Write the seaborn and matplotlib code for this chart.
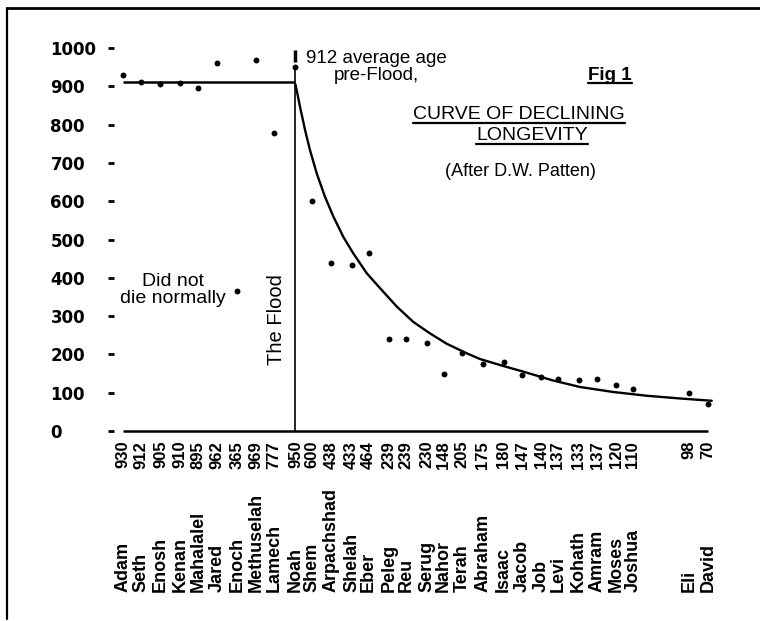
import pandas as pd
import seaborn as sns
import matplotlib.pyplot as plt
from matplotlib.lines import Line2D
from matplotlib.transforms import blended_transform_factory, IdentityTransform

# --- data ---
names = ['Adam', 'Seth', 'Enosh', 'Kenan', 'Mahalalel', 'Jared', 'Enoch', 'Methuselah', 'Lamech', 'Noah',
         'Shem', 'Arpachshad', 'Shelah', 'Eber', 'Peleg', 'Reu', 'Serug', 'Nahor', 'Terah', 'Abraham',
         'Isaac', 'Jacob', 'Job', 'Levi', 'Kohath', 'Amram', 'Moses', 'Joshua', 'Eli', 'David']
ages = [930, 912, 905, 910, 895, 962, 365, 969, 777, 950,
        600, 438, 433, 464, 239, 239, 230, 148, 205, 175,
        180, 147, 140, 137, 133, 137, 120, 110, 98, 70]
# horizontal place of each person along the chart
x_slot = [0, 0.95, 2, 3.05, 4, 5, 6.1, 7.1, 8.05, 9.2,
          10.1, 11.1, 12.2, 13.1, 14.2, 15.1, 16.2, 17.1, 18.1, 19.2,
          20.3, 21.3, 22.3, 23.2, 24.3, 25.3, 26.3, 27.2, 30.2, 31.2]

pre_flood_avg = 912

# hand drawn decline curve, read at points along it
curve_x = [9.2, 9.44, 9.71, 9.97, 10.33, 10.77, 11.22, 11.75, 12.28, 13.0, 13.71, 14.6,
           15.48, 16.37, 17.26, 18.33, 19.04, 20.27, 21.28, 22.93, 24.37, 26.13, 27.95, 29.7, 31.4]
curve_y = [905, 847, 786, 734, 673, 612, 560, 507, 464, 412, 373, 325,
           285, 255, 228, 203, 188, 170, 156, 132, 115, 102, 92, 85, 79]

y_ticks = [0, 100, 200, 300, 400, 500, 600, 700, 800, 900, 1000]

sns.set_theme(style='white')
plt.rcParams['font.family'] = ['Liberation Sans', 'DejaVu Sans']
plt.rcParams['text.color'] = 'black'

df = pd.DataFrame({'name': names, 'age': ages, 'x': x_slot})
curve = pd.DataFrame({'x': curve_x, 'age': curve_y})
noah = names.index('Noah')

W, H = 760, 621
fig = plt.figure(figsize=(7.6, 6.21), dpi=100)
fig.patch.set_facecolor('white')
ax = fig.add_axes([0.1495, 0.2936, 0.8018, 0.6537])


def fx(px):
    return px / W


def fy(py):
    return 1 - py / H


# --- marks ---
sns.lineplot(data=curve, x='x', y='age', color='black', lw=1.7, sort=False, estimator=None, ax=ax)
ax.hlines(pre_flood_avg, x_slot[0], x_slot[noah], color='black', lw=1.8)
ax.vlines(x_slot[noah], 0, ages[noah], color='black', lw=1.2)
ax.plot(x_slot[noah], 978, marker='|', ms=8, mew=2.5, color='black')
ax.hlines(0, x_slot[0], x_slot[-1], color='black', lw=1.8)
sns.scatterplot(data=df, x='x', y='age', color='black', s=18, linewidth=0, ax=ax, zorder=3)

# --- axes ---
ax.set_xlim(-0.5, 32)
ax.set_ylim(-20, 1040)
ax.set_xlabel('')
ax.set_ylabel('')
for s in ax.spines.values():
    s.set_visible(False)
ax.set_yticks(y_ticks)
ax.set_xticks(x_slot, labels=[str(a) for a in ages])
ax.tick_params(axis='x', length=0, pad=1.5, labelrotation=90, labelsize=12, colors='black')
ax.tick_params(axis='y', left=True, length=4.5, width=2, direction='out', pad=41,
               labelsize=12, colors='black')
for lbl in ax.get_yticklabels():
    lbl.set_ha('left')
    lbl.set_fontweight('bold')
    lbl.set_family('DejaVu Sans')
for lbl in ax.get_xticklabels():
    lbl.set_fontweight('bold')

# names under the ages
tr = blended_transform_factory(ax.transData, fig.transFigure)
for x, n in zip(x_slot, names):
    ax.text(x, fy(592), n, transform=tr, rotation=90, ha='center', va='bottom',
            fontsize=13, fontweight='bold')

# --- annotations ---
fig.text(fx(376), fy(67), '912 average age\npre-Flood,', ha='center', va='center',
         fontsize=13.5, linespacing=1.0)
fig.text(fx(173), fy(290), 'Did not\ndie normally', ha='center', va='center',
         fontsize=14, linespacing=1.0)
fig.text(fx(277), fy(320), 'The Flood', ha='center', va='center', rotation=90, fontsize=14.5)

t_fig = fig.text(fx(610), fy(75), 'Fig 1', ha='center', va='center', fontsize=13.5, fontweight='bold')
t_1 = fig.text(fx(519), fy(115), 'CURVE OF DECLINING', ha='center', va='center', fontsize=14)
t_2 = fig.text(fx(532), fy(135), 'LONGEVITY', ha='center', va='center', fontsize=14)
fig.text(fx(520), fy(172), '(After D.W. Patten)', ha='center', va='center', fontsize=13)

renderer = fig.canvas.get_renderer()


def underline(t, gap=0.0, lw=1.6):
    bb = t.get_window_extent(renderer)
    fig.add_artist(Line2D([bb.x0, bb.x1], [bb.y0 + gap] * 2, transform=IdentityTransform(),
                          color='black', lw=lw))


underline(t_fig, 1)
underline(t_1)
underline(t_2)

# page frame
fig.add_artist(Line2D([fx(7), fx(7)], [fy(8), fy(619)], color='black', lw=1.6))
fig.add_artist(Line2D([fx(7), 1.0], [fy(8), fy(8)], color='black', lw=2))

fig.savefig('out.png', dpi=100, facecolor='white')
